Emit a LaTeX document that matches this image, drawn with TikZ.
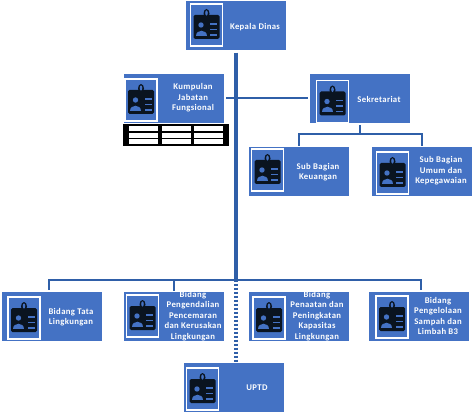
\documentclass[tikz,border=0pt]{standalone}
\usepackage{fontspec}
\setmainfont{Carlito}[LetterSpace=4]
\definecolor{boxblue}{HTML}{4472C4}
\definecolor{linkblue}{HTML}{2F5FA8}
\definecolor{iconblack}{HTML}{0A1420}
\tikzset{
  orgbox/.style={fill=boxblue,draw=none,inner sep=0pt,minimum width=100pt,minimum height=49pt},
  orgtext/.style={text=white,font=\fontsize{8.7}{10.5}\selectfont\bfseries,align=center,inner sep=0pt},
  photoframe/.style={draw=white,line width=1.6pt,fill=boxblue},
  trunkline/.style={draw=linkblue,line width=3.4pt},
  linkline/.style={draw=linkblue,line width=2pt},
  buslinedotted/.style={draw=linkblue,line width=3.4pt,dash pattern=on 2.2pt off 1.8pt}
}
% #1 name, #2 box centre x, #3 box centre y, #4 frame centre x, #5 frame centre y, #6 text x, #7 text y, #8 text
\newcommand{\orgunit}[8]{%
  \node[orgbox] (#1) at (#2,#3) {};
  \draw[photoframe] (#4-16,#5-21) rectangle (#4+16,#5+21);
  \begin{scope}[shift={(#4,#5)}]
    \fill[iconblack,rounded corners=1.5pt] (-13,-10) rectangle (13,14);
    \fill[iconblack] (0,-11.5) ellipse (3 and 4.5);
    \fill[boxblue] (0,-12) ellipse (1.3 and 2.6);
    \fill[boxblue] (-5.5,0) circle (2.7);
    \fill[boxblue] (-11,11) .. controls (-11,4) and (0,4) .. (0,11) -- cycle;
    \fill[boxblue] (3.5,-1.6) rectangle (10.5,-0.4);
    \fill[boxblue] (3.5,3.9) rectangle (10.5,5.1);
    \fill[boxblue] (3.5,9.4) rectangle (10.5,10.6);
  \end{scope}
  \node[orgtext] (#1text) at (#6,#7) {#8};
}
\begin{document}
\begin{tikzpicture}[x=1pt,y=-1pt]
\useasboundingbox (0,0) rectangle (474,414);
\orgunit{kepala}{236}{26}{206.5}{25}{255}{27}{Kepala  Dinas}
\orgunit{kumpulan}{174}{98.5}{141}{100}{193}{98}{Kumpulan\\Jabatan\\Fungsional}
\orgunit{sekretariat}{360}{98.5}{332.5}{101.5}{379}{99}{Sekretariat}
\orgunit{keuangan}{298.5}{171.5}{267.5}{170}{318}{172}{Sub Bagian\\Keuangan}
\orgunit{umum}{422}{171.5}{392.5}{173}{441}{171}{Sub Bagian\\Umum  dan\\Kepegawaian}
\orgunit{tata}{52}{316.5}{24}{318}{71}{317}{Bidang  Tata\\Lingkungan}
\orgunit{pengendalian}{174}{316.5}{142.5}{316}{193}{316}{Bidang\\Pengendalian\\Pencemaran\\dan Kerusakan\\Lingkungan}
\orgunit{penaatan}{298.5}{316.5}{269}{318}{317}{316}{Bidang\\Penaatan  dan\\Peningkatan\\Kapasitas\\Lingkungan}
\orgunit{pengelolaan}{419}{316.5}{392}{317}{438}{316}{Bidang\\Pengelolaan\\Sampah dan\\Limbah  B3}
\orgunit{uptd}{233.5}{387.5}{202.5}{389}{257}{388}{UPTD}
% table below Kumpulan
\fill[black] (123,124) rectangle (229,146);
\foreach \cx in {129,162,194}{
  \foreach \ry in {126,133,139}{
    \fill[white] (\cx,\ry) rectangle (\cx+28.5,\ry+5);
  }
}
% connectors
\coordinate (trunktop) at ([yshift=-2pt]kepala.south);
\coordinate (bus) at (kepala.south |- 0,279.5);
\coordinate (busleft) at (49,279.5);
\coordinate (busright) at (421,279.5);
\draw[trunkline] (trunktop) -- (bus);
\draw[buslinedotted] (bus) -- ([yshift=1pt]bus |- uptd.north);
\draw[linkline] ([yshift=2pt]busleft |- tata.north) -- (busleft) -- (busright) -- ([yshift=2pt]busright |- pengelolaan.north);
\draw[linkline] (pengendalian.north |- bus) -- ([yshift=1pt]pengendalian.north);
\draw[linkline] ([xshift=2pt]kumpulan.east) -- ([xshift=-2pt]sekretariat.west |- kumpulan.east);
\coordinate (subbus) at (sekretariat.south |- 0,134);
\draw[linkline] ([yshift=-2pt]sekretariat.south) -- (subbus);
\draw[linkline] ([yshift=1pt]keuangan.north) -- (keuangan.north |- subbus) -- (umum.north |- subbus) -- ([yshift=1pt]umum.north);
\end{tikzpicture}
\end{document}
